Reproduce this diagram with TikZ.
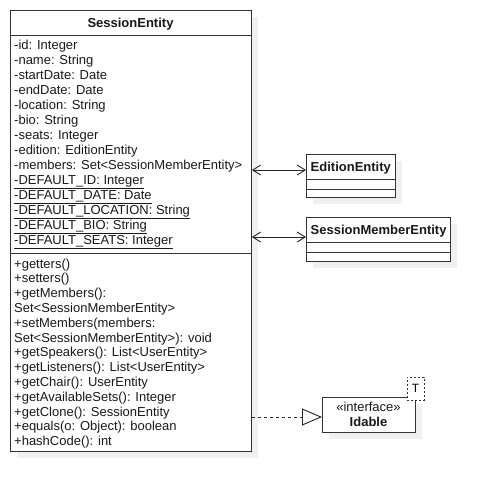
\documentclass[tikz,border=0pt]{standalone}
\usepackage{fontspec}
\setmainfont{Liberation Sans}
\usetikzlibrary{arrows.meta, positioning, shadows}

\begin{document}
\begin{tikzpicture}[x=1pt, y=-1pt,
  umlbox/.style={draw=black!80, line width=0.9pt, fill=white,
    inner sep=0pt, anchor=north west,
    drop shadow={shadow xshift=7pt, shadow yshift=-7pt, fill=black!6, opacity=1}},
  member/.style={anchor=base west, inner sep=0pt, text=black!90,
    font=\fontsize{13}{15}\selectfont},
  classname/.style={anchor=base, inner sep=0pt, text=black!90,
    font=\fontsize{13}{15}\selectfont\bfseries},
  assoc/.style={{Straight Barb[length=8pt, width=10pt]}-{Straight Barb[length=8pt, width=10pt]},
    line width=0.9pt, draw=black!85},
  realize/.style={-{Triangle[open, length=20pt, width=17pt, fill=white]},
    dash pattern=on 3pt off 3pt, line width=0.9pt, draw=black!85}]

  \useasboundingbox (0,0) rectangle (490,491);

  % Class SessionEntity
  \node[umlbox, minimum width=241pt, minimum height=441pt] (session) at (10,10) {};
  \draw[black!80, line width=0.9pt] (10,35) -- (251,35);
  \draw[black!80, line width=0.9pt] (10,253) -- (251,253);
  \node[classname] (sessiontitle) at (130.5,27.5) {SessionEntity};

  % Attributes
  \foreach \txt [count=\i] in {-id: Integer, -name: String, -startDate: Date,
      -endDate: Date, -location: String, -bio: String, -seats: Integer,
      -edition: EditionEntity, -members: Set<SessionMemberEntity>}
    \node[member] (attr\i) at (14,34.5+15*\i) {\txt};
  \foreach \txt [count=\i from 10] in {-DEFAULT\_ID: Integer, -DEFAULT\_DATE: Date,
      -DEFAULT\_LOCATION: String, -DEFAULT\_BIO: String, -DEFAULT\_SEATS: Integer}
    \node[member] (attr\i) at (14,34.5+15*\i) {\underline{\txt}};

  % Operations
  \foreach \txt [count=\i] in {+getters(), +setters(), +getMembers():,
      Set<SessionMemberEntity>, +setMembers(members:, Set<SessionMemberEntity>): void,
      +getSpeakers(): List<UserEntity>, +getListeners(): List<UserEntity>,
      +getChair(): UserEntity, +getAvailableSets(): Integer,
      +getClone(): SessionEntity, +equals(o: Object): boolean, +hashCode(): int}
    \node[member] (op\i) at (14,253.2+14.8*\i) {\txt};

  % Class EditionEntity
  \node[umlbox, minimum width=89pt, minimum height=43pt] (edition) at (306,154) {};
  \draw[black!80, line width=0.9pt] (306,179) -- (395,179);
  \draw[black!80, line width=0.9pt] (306,189) -- (395,189);
  \node[classname, anchor=base west] (editiontitle) at (310.5,171) {EditionEntity};

  % Class SessionMemberEntity
  \node[umlbox, minimum width=144pt, minimum height=44pt] (memberent) at (306,217) {};
  \draw[black!80, line width=0.9pt] (306,242) -- (450,242);
  \draw[black!80, line width=0.9pt] (306,252) -- (450,252);
  \node[classname, anchor=base west] (membertitle) at (310.5,234) {SessionMemberEntity};

  % Interface Idable with template parameter
  \node[umlbox, minimum width=93pt, minimum height=35pt] (idable) at (322,397) {};
  \node[member, anchor=base] (stereo) at (368.5,411) {«interface»};
  \node[classname] (idabletitle) at (368.5,426.5) {Idable};
  \node[draw=black!80, line width=0.9pt, dash pattern=on 2pt off 2pt, fill=white,
    minimum width=17pt, minimum height=23pt, inner sep=0pt,
    font=\fontsize{12}{14}\selectfont] (tparam) at (415.5,388.5) {T};

  % Associations and realization
  \draw[assoc] (session.east |- 0,170) -- (edition.west |- 0,170);
  \draw[assoc] (session.east |- 0,237) -- (memberent.west |- 0,237);
  \draw[realize] (session.east |- 0,417) -- (idable.west |- 0,417);

\end{tikzpicture}
\end{document}
